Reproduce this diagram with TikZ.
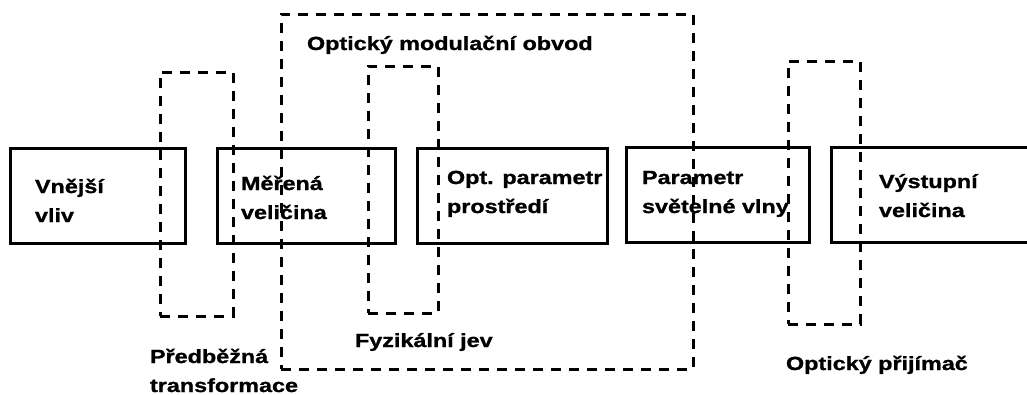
\documentclass[tikz,border=0pt]{standalone}
\usepackage{fontspec}
\setmainfont{Liberation Sans}[FakeStretch=1.23,BoldFeatures={FakeBold=1.2}]
\begin{document}
\begin{tikzpicture}[x=1pt,y=1pt]
\tikzstyle{every node}+=[inner sep=0pt, outer sep=0pt, font=\bfseries\fontsize{19}{29}\selectfont]
\tikzstyle{blok}=[draw, line width=3pt, minimum height=95pt]
\tikzstyle{ramec}=[draw, line width=3pt, dash pattern=on 10pt off 8pt]
\tikzstyle{popis}=[anchor=base west, align=left]
\clip (0,0) rectangle (1027,-394);
% bloky
\node [blok, minimum width=175pt] (vliv) at (97.5,-195.5) {};
\node [blok, minimum width=178pt] (meri) at (306,-195.5) {};
\node [blok, minimum width=190pt] (prostr) at (512,-195.5) {};
\node [blok, minimum width=183pt] (vlna) at (717.5,-194.5) {};
\node [blok, minimum width=214pt] (vystup) at (938,-194.5) {};
% texty v blocich (base = posledni radek)
\node [popis] (tvliv) at (35,-222) {Vnější\\vliv};
\node [popis] (tmeri) at (241,-219) {Měřená\\veličina};
\node [popis] (tprostr) at (447,-213) {Opt. parametr\\prostředí};
\node [popis] (tvlna) at (642,-213) {Parametr\\světelné vlny};
\node [popis] (tvystup) at (879,-217) {Výstupní\\veličina};
% ramecky
\node [ramec, minimum width=73pt, minimum height=244pt] (predb) at (196.5,-194) {};
\node [ramec, minimum width=412pt, minimum height=355pt] (modul) at (487,-191.5) {};
\node [ramec, minimum width=70pt, minimum height=247pt] (jev) at (403,-189.5) {};
\node [ramec, minimum width=72pt, minimum height=263pt] (prijim) at (824,-192.5) {};
% popisy ramecku
\node [popis] (tmodul) at (307,-50) {Optický modulační obvod};
\node [popis] (tpredb) at (150,-392) {Předběžná\\transformace};
\node [popis] (tjev) at (355,-347) {Fyzikální jev};
\node [popis] (tprijim) at (786,-370) {Optický přijímač};
\end{tikzpicture}
\end{document}
